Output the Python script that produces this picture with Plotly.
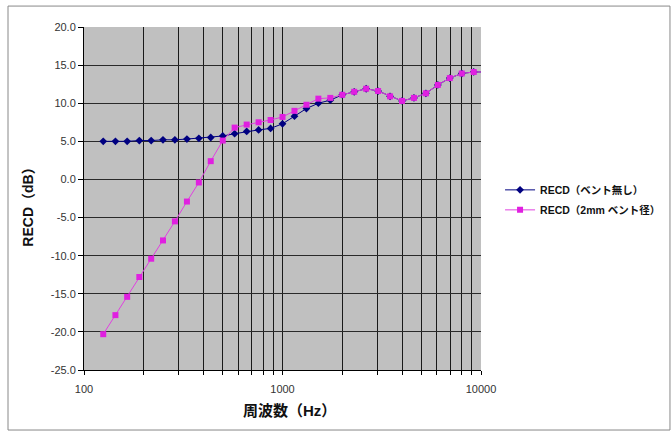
import plotly.graph_objects as go

# Frequencies (Hz), 1/5-octave steps from 125 Hz
freq = [125, 144, 165, 190, 218, 250, 287, 330, 379, 435, 500, 574, 660, 758, 871,
        1000, 1149, 1320, 1516, 1741, 2000, 2297, 2639, 3031, 3482, 4000, 4595,
        5278, 6063, 6964, 8000, 9190, 10556]

# RECD without vent (dB)
recd_no_vent = [5.0, 5.0, 5.0, 5.1, 5.1, 5.2, 5.2, 5.3, 5.4, 5.5, 5.7, 6.0, 6.3, 6.5, 6.7,
                7.3, 8.3, 9.3, 10.0, 10.4, 11.1, 11.5, 11.9, 11.6, 10.9, 10.3, 10.7,
                11.3, 12.4, 13.3, 13.9, 14.1, 14.1]

# RECD with 2 mm vent (dB)
recd_2mm_vent = [-20.3, -17.8, -15.4, -12.8, -10.4, -8.0, -5.5, -2.9, -0.4, 2.4, 5.1, 6.8, 7.2, 7.5, 7.8,
                 8.2, 9.0, 9.8, 10.6, 10.7, 11.1, 11.5, 11.9, 11.6, 10.9, 10.3, 10.7,
                 11.3, 12.4, 13.3, 13.9, 14.1, 14.1]

y_ticks = [20, 15, 10, 5, 0, -5, -10, -15, -20, -25]
y_tick_labels = ["20.0", "15.0", "10.0", "5.0", "0.0", "-5.0", "-10.0", "-15.0", "-20.0", "-25.0"]

x_ticks = [100, 200, 300, 400, 500, 600, 700, 800, 900,
           1000, 2000, 3000, 4000, 5000, 6000, 7000, 8000, 9000, 10000]
x_tick_labels = ["100"] + [""] * 8 + ["1000"] + [""] * 8 + ["10000"]

series_names = ["RECD（ベント無し）", "RECD（2mm ベント径）"]
x_title = "周波数（Hz）"
y_title = "RECD（dB）"

fig = go.Figure()
fig.add_trace(go.Scatter(
    x=freq, y=recd_no_vent, name=series_names[0], mode="lines+markers",
    legendgroup="a",
    line=dict(color="#000080", width=1),
    marker=dict(symbol="diamond", size=6, color="#000080"),
))
fig.add_trace(go.Scatter(
    x=freq, y=recd_2mm_vent, name=series_names[1], mode="lines+markers",
    legendgroup="b",
    line=dict(color="#e040e0", width=1),
    marker=dict(symbol="square", size=6, color="#e020e0"),
))

base_family = "Liberation Sans, Arial, Noto Sans CJK JP, sans-serif"

fig.update_layout(
    width=671, height=431,
    margin=dict(l=84, r=190, t=27, b=61, autoexpand=False),
    paper_bgcolor="white",
    plot_bgcolor="#c0c0c0",
    font=dict(family=base_family, size=11, color="#333333"),
    showlegend=True,
    legend=dict(
        x=1.048, y=0.496, xanchor="left", yanchor="middle",
        font=dict(size=10.5, color="#111111", family=base_family, weight="bold"),
        bgcolor="rgba(0,0,0,0)", traceorder="grouped", tracegroupgap=1, itemwidth=30,
    ),
    xaxis=dict(
        type="log", range=[2, 4],
        tickvals=x_ticks, ticktext=x_tick_labels,
        showgrid=True, gridcolor="#1a1a1a", gridwidth=1,
        showline=True, linecolor="black", linewidth=1,
        ticks="outside", ticklen=4, tickcolor="black",
        ticklabelstandoff=5,
        tickfont=dict(size=11, color="#333333"),
        zeroline=False,
    ),
    yaxis=dict(
        range=[-25, 20],
        tickvals=y_ticks, ticktext=y_tick_labels,
        showgrid=True, gridcolor="#2a2a2a", gridwidth=1,
        showline=True, linecolor="black", linewidth=1,
        ticks="outside", ticklen=5, tickcolor="black",
        tickfont=dict(size=11, color="#333333"),
        zeroline=False,
    ),
    annotations=[
        dict(text=x_title, xref="paper", yref="paper", x=0.518, y=-0.117,
             xanchor="center", yanchor="middle", showarrow=False,
             font=dict(size=15, color="#111111", family=base_family, weight="bold")),
        dict(text=y_title, xref="paper", yref="paper", x=-0.141, y=0.485,
             xanchor="center", yanchor="middle", showarrow=False, textangle=-90,
             font=dict(size=14, color="#111111", family=base_family, weight="bold")),
    ],
    shapes=[dict(
        type="rect", xref="paper", yref="paper",
        x0=-0.1914, x1=1.476, y0=-0.175, y1=1.061,
        line=dict(color="#888888", width=1), fillcolor="rgba(0,0,0,0)", layer="below",
    )],
)

fig.write_html("out.html")
